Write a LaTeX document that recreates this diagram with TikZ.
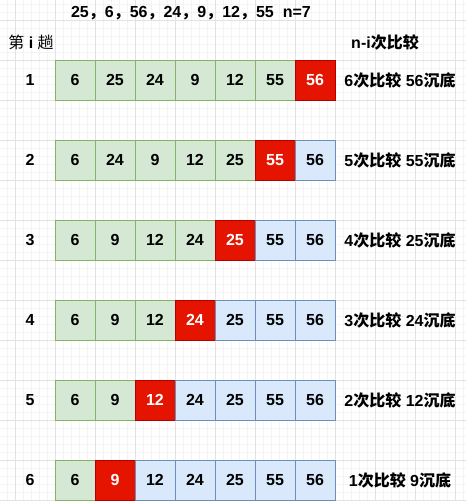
\documentclass[tikz,border=0pt]{standalone}
\usepackage{fontspec}
\setmainfont{Liberation Sans}
\newfontfamily\cjk{Noto Sans CJK SC}
\newcommand\zh[1]{{\cjk #1}}
\definecolor{gminor}{HTML}{F3F3F3}
\definecolor{gmajor}{HTML}{E2E2E2}
\definecolor{gfill}{HTML}{D5E8D4}
\definecolor{gline}{HTML}{82B366}
\definecolor{bfill}{HTML}{DAE8FC}
\definecolor{bline}{HTML}{6C8EBF}
\definecolor{rfill}{HTML}{E51400}
\definecolor{rline}{HTML}{B20000}
\begin{document}
\begin{tikzpicture}[x=1pt,y=-1pt,
  every node/.style={font=\fontsize{16}{19}\selectfont\bfseries, inner sep=0pt},
  cell/.style={draw, minimum width=40pt, minimum height=40pt, line width=1pt},
  gcell/.style={cell, fill=gfill, draw=gline},
  bcell/.style={cell, fill=bfill, draw=bline},
  rcell/.style={cell, fill=rfill, draw=rline, text=white}]
\useasboundingbox (0,0) rectangle (466,501);
\fill[white] (0,0) rectangle (466,501);
\foreach \i in {0,...,58} {\draw[gminor,line width=0.8pt] (7+8*\i,0) -- (7+8*\i,501);}
\foreach \i in {0,...,62} {\draw[gminor,line width=0.8pt] (0,4+8*\i) -- (466,4+8*\i);}
\foreach \i in {0,...,11} {\draw[gmajor,line width=0.8pt] (15+40*\i,0) -- (15+40*\i,501);}
\foreach \i in {0,...,12} {\draw[gmajor,line width=0.8pt] (0,20+40*\i) -- (466,20+40*\i);}
\node (title) at (191,13) {25\zh{，}6\zh{，}56\zh{，}24\zh{，}9\zh{，}12\zh{，}55\hspace{9pt}n=7};
\node (hpass) at (31,42) {\zh{\mdseries 第} i \zh{\mdseries 趟}};
\node (hcmp) at (385,42) {n-i\zh{次比较}};
\foreach \r/\vals/\red/\txt in {
  1/{6,25,24,9,12,55,56}/7/{6\zh{次比较} 56\zh{沉底}},
  2/{6,24,9,12,25,55,56}/6/{5\zh{次比较} 55\zh{沉底}},
  3/{6,9,12,24,25,55,56}/5/{4\zh{次比较} 25\zh{沉底}},
  4/{6,9,12,24,25,55,56}/4/{3\zh{次比较} 24\zh{沉底}},
  5/{6,9,12,24,25,55,56}/3/{2\zh{次比较} 12\zh{沉底}},
  6/{6,9,12,24,25,55,56}/2/{1\zh{次比较} 9\zh{沉底}}} {
  \pgfmathsetmacro\yy{80*\r}
  \node (lab\r) at (30,\yy) {\r};
  \foreach \v [count=\c] in \vals {
    \ifnum\c<\red \def\st{gcell}\else\ifnum\c=\red \def\st{rcell}\else\def\st{bcell}\fi\fi
    \node[\st] (c\r-\c) at (35+40*\c,\yy) {\v};
  }
  \node (t\r) at (400,\yy) {\txt};
}
\end{tikzpicture}
\end{document}
